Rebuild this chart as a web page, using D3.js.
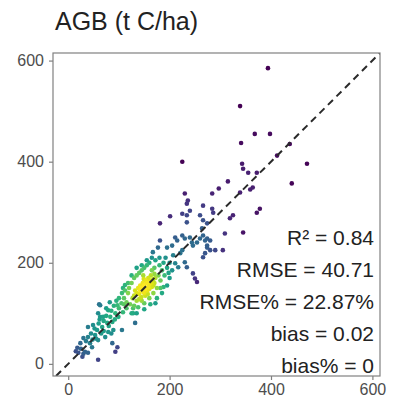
<!DOCTYPE html>
<html>
<head>
<meta charset="utf-8">
<script src="https://cdn.jsdelivr.net/npm/d3@7"></script>
<style>
  body { margin: 0; background: #fff; }
  svg { display: block; font-family: "Liberation Sans", Arial, sans-serif; }
</style>
</head>
<body>
<div id="chart"></div>
<script>
// observed (x) / predicted (y) AGB, t C/ha
const observed = [
  394, 339, 368, 398, 341, 225, 437, 412, 471, 441, 343, 345, 355, 372, 315, 297, 284, 230, 359, 364,
  339, 236, 234, 266, 284, 286, 240, 378, 372, 325, 319, 234, 201, 260, 266, 274, 264, 345, 309, 211,
  270, 274, 290, 305, 270, 266, 181, 215, 205, 195, 225, 230, 240, 244, 254, 260, 266, 274, 280, 274,
  280, 246, 221, 225, 207, 230, 211, 217, 234, 246, 250, 254, 181, 177, 167, 234, 225,
  130, 135, 140, 142, 145, 148, 150, 152, 155, 158, 160, 162, 165, 168, 138, 144, 150, 156, 160, 165,
  170, 147, 153, 140, 135, 145, 158, 163, 172, 132, 127, 152, 157, 168, 149, 142,
  110, 115, 118, 112, 120, 122, 125, 128, 130, 135, 138, 140, 145, 150, 150, 155, 160, 160, 165, 168,
  170, 172, 175, 178, 180, 182, 185, 188, 190, 192, 195, 198, 200, 115, 105, 125, 135, 150, 162, 175,
  185, 195, 200, 180, 165, 155, 145, 135, 125, 118, 108, 130, 172, 188, 205, 148, 170, 182,
  63, 79, 97, 106, 112, 59, 69, 83, 93, 99, 39, 49, 57, 67, 77, 87, 106, 89, 108, 128,
  30, 39, 53, 59, 73, 79, 87, 97, 93, 24, 18, 20, 28, 33, 47, 39, 59, 43, 61, 63, 132,
  45, 52, 60, 70, 75, 85, 90, 95, 100, 65, 80, 35, 55, 70, 85, 100, 110, 92, 48, 62, 15, 25, 30, 75, 82
];
const predicted = [
  585, 510, 455, 455, 437, 400, 435, 412, 396, 357, 396, 386, 378, 378, 361, 347, 337, 337, 345, 349,
  339, 323, 317, 313, 307, 299, 303, 307, 299, 294, 288, 294, 292, 294, 284, 278, 268, 260, 258, 250,
  244, 234, 225, 225, 219, 211, 278, 244, 234, 230, 254, 248, 250, 240, 240, 248, 254, 248, 244, 230,
  225, 234, 219, 225, 215, 201, 199, 191, 191, 179, 169, 162, 244, 230, 221, 280, 297,
  135, 140, 138, 145, 150, 142, 155, 148, 160, 152, 158, 165, 160, 168, 150, 132, 140, 145, 148, 152,
  160, 160, 165, 128, 125, 125, 170, 175, 170, 145, 130, 135, 138, 155, 168, 155,
  130, 122, 140, 145, 150, 118, 160, 110, 170, 175, 112, 180, 185, 120, 190, 195, 130, 200, 185, 140,
  190, 205, 150, 175, 195, 165, 185, 200, 175, 210, 190, 180, 170, 110, 120, 100, 100, 108, 118, 130,
  140, 155, 200, 210, 210, 205, 195, 190, 175, 160, 150, 115, 120, 152, 185, 175, 178, 150,
  116, 106, 116, 140, 156, 100, 93, 93, 100, 93, 73, 77, 67, 73, 81, 83, 67, 67, 102, 100,
  51, 53, 57, 47, 53, 63, 41, 33, 24, 41, 32, 22, 14, 24, 33, 22, 8, 41, 118, 93, 81,
  60, 70, 80, 85, 95, 105, 115, 125, 110, 60, 75, 45, 50, 65, 60, 130, 118, 88, 48, 88, 25, 30, 20, 110, 122
];
const xTicks = [0, 200, 400, 600];
const yTicks = [0, 200, 400, 600];
const stats = ["R² = 0.84", "RMSE = 40.71", "RMSE% = 22.87%", "bias = 0.02", "bias% = 0"];

const width = 394, height = 403;
const panel = {left: 53, right: 380, top: 53, bottom: 376};

const svg = d3.select("#chart").append("svg")
    .attr("width", width)
    .attr("height", height);

const x = d3.scaleLinear().domain([-30, 615]).range([panel.left, panel.right]);
const y = d3.scaleLinear().domain([-24, 615]).range([panel.bottom, panel.top]);

// density colouring (viridis), like ggpointdensity
const pts = observed.map((o, i) => ({o, p: predicted[i]}));
const h = 30;
pts.forEach(a => {
  a.d = d3.sum(pts, b => Math.exp(-((a.o - b.o) ** 2 + (a.p - b.p) ** 2) / (2 * h * h)));
});
const color = d3.scaleSequential(d3.interpolateViridis).domain(d3.extent(pts, d => d.d));
pts.sort((a, b) => a.d - b.d);

svg.append("text")
    .attr("x", 55)
    .attr("y", 30)
    .attr("font-size", 25)
    .attr("fill", "#222")
    .text("AGB (t C/ha)");

svg.append("defs").append("clipPath").attr("id", "clip")
  .append("rect")
    .attr("x", panel.left).attr("y", panel.top)
    .attr("width", panel.right - panel.left).attr("height", panel.bottom - panel.top);

const plot = svg.append("g").attr("clip-path", "url(#clip)");

plot.selectAll("circle")
  .data(pts)
  .join("circle")
    .attr("cx", d => x(d.o))
    .attr("cy", d => y(d.p))
    .attr("r", 2.3)
    .attr("fill", d => color(d.d));

// 1:1 line
const lo = Math.max(x.domain()[0], y.domain()[0]);
const hi = Math.min(x.domain()[1], y.domain()[1]);
plot.append("line")
    .attr("x1", x(lo)).attr("y1", y(lo))
    .attr("x2", x(hi)).attr("y2", y(hi))
    .attr("stroke", "#2a2a2a")
    .attr("stroke-width", 2)
    .attr("stroke-dasharray", "7,5");

svg.append("rect")
    .attr("x", panel.left).attr("y", panel.top)
    .attr("width", panel.right - panel.left).attr("height", panel.bottom - panel.top)
    .attr("fill", "none")
    .attr("stroke", "#808080")
    .attr("stroke-width", 1.2);

const xAxis = svg.append("g")
    .attr("transform", `translate(0,${panel.bottom})`)
    .call(d3.axisBottom(x).tickValues(xTicks).tickSize(4).tickPadding(4));
const yAxis = svg.append("g")
    .attr("transform", `translate(${panel.left},0)`)
    .call(d3.axisLeft(y).tickValues(yTicks).tickSize(4).tickPadding(5));

[xAxis, yAxis].forEach(g => {
  g.select(".domain").remove();
  g.selectAll(".tick line").attr("stroke", "#808080").attr("stroke-width", 1.2);
  g.selectAll(".tick text")
    .attr("fill", "#4d4d4d")
    .attr("font-size", 16)
    .attr("font-family", "Liberation Sans, Arial, sans-serif");
});

svg.append("g")
  .selectAll("text")
  .data(stats)
  .join("text")
    .attr("x", 374)
    .attr("y", (d, i) => 245 + i * 32)
    .attr("text-anchor", "end")
    .attr("font-size", 21)
    .attr("fill", "#222")
    .text(d => d);
</script>
</body>
</html>
